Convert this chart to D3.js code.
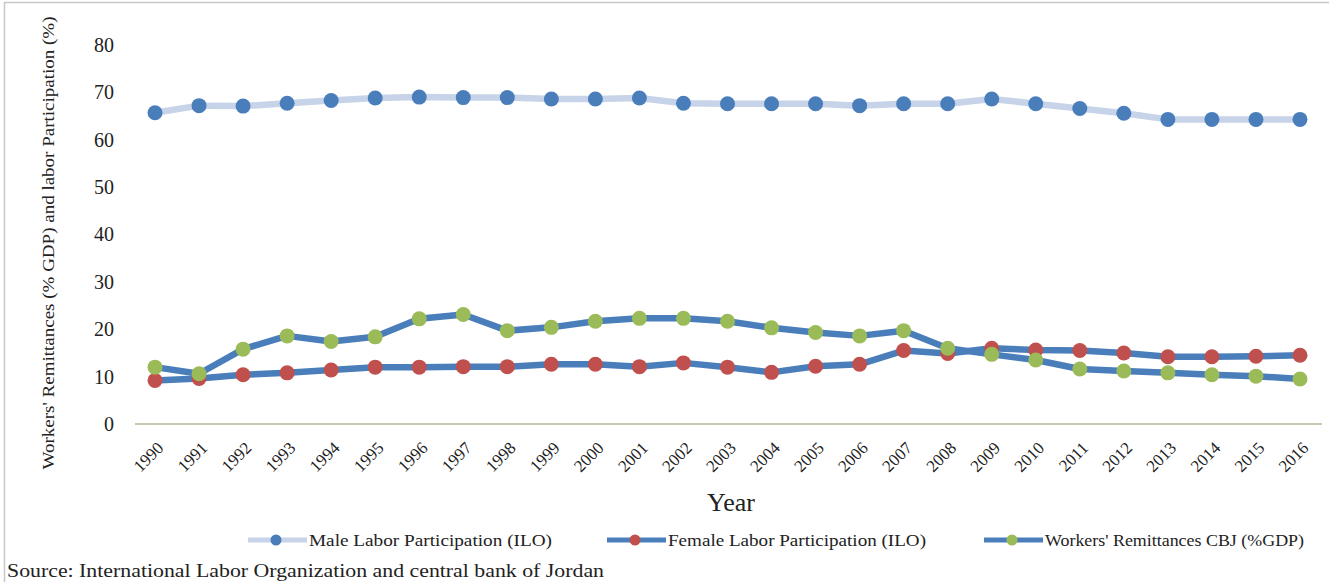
<!DOCTYPE html>
<html><head><meta charset="utf-8">
<script src="https://cdn.jsdelivr.net/npm/d3@7"></script>
<style>body{margin:0;background:#fff;} svg{display:block;}</style>
</head><body>
<svg id="c" width="1329" height="582"></svg>
<script>
const years = [1990,1991,1992,1993,1994,1995,1996,1997,1998,1999,2000,2001,2002,2003,2004,2005,2006,2007,2008,2009,2010,2011,2012,2013,2014,2015,2016];
const male = [65.7,67.2,67.1,67.7,68.3,68.8,69.0,68.9,68.9,68.6,68.6,68.8,67.7,67.6,67.6,67.6,67.2,67.6,67.6,68.6,67.6,66.6,65.6,64.3,64.3,64.3,64.3];
const female = [9.2,9.6,10.4,10.8,11.4,12.0,12.0,12.1,12.1,12.6,12.6,12.1,12.9,12.0,10.9,12.2,12.6,15.5,14.9,16.0,15.6,15.5,15.0,14.2,14.2,14.3,14.5];
const remit = [12.0,10.6,15.8,18.6,17.4,18.4,22.2,23.1,19.7,20.4,21.7,22.3,22.3,21.7,20.3,19.3,18.6,19.7,16.0,14.7,13.5,11.6,11.2,10.8,10.4,10.1,9.5];
const yTicks = [0,10,20,30,40,50,60,70,80];
const seriesNames = ["Male Labor Participation (ILO)","Female Labor Participation (ILO)","Workers' Remittances CBJ (%GDP)"];

const svg = d3.select("#c");
const serif = "'Liberation Serif','Times New Roman',serif";
svg.append("rect").attr("x",4.5).attr("y",2.5).attr("width",1340).attr("height",600)
  .attr("fill","none").attr("stroke","#c8c8c8").attr("stroke-width",1.5);

const x = d3.scaleLinear().domain([1990,2016]).range([155,1300]);
const y = d3.scaleLinear().domain([0,80]).range([424,45]);

// y tick labels
const ya = svg.append("g").attr("transform","translate(116,0)")
  .call(d3.axisLeft(y).tickValues(yTicks).tickSize(0).tickPadding(2));
ya.select(".domain").remove();
ya.selectAll("text").attr("font-family",serif).attr("font-size",20).attr("fill","#222");

// x axis
const xa = svg.append("g").attr("transform","translate(0,424)")
  .call(d3.axisBottom(x).tickValues(years).tickFormat(d3.format("d")).tickSize(0));
xa.select(".domain").attr("stroke","#c9c6b4").attr("stroke-width",2).attr("d","M135,0H1322");
xa.selectAll("text").attr("font-family",serif).attr("font-size",17).attr("fill","#222")
  .attr("text-anchor","end").attr("dy",0).attr("y",0)
  .attr("transform","translate(9,25) rotate(-45)");

// axis titles
svg.append("text").attr("transform","translate(54,243) rotate(-90)").attr("text-anchor","middle")
  .attr("font-family",serif).attr("font-size",17).attr("fill","#222")
  .attr("textLength",453).attr("lengthAdjust","spacingAndGlyphs")
  .text("Workers' Remittances  (% GDP) and labor Participation  (%)");
svg.append("text").attr("x",731).attr("y",511).attr("text-anchor","middle")
  .attr("font-family",serif).attr("font-size",26).attr("fill","#222").text("Year");

const line = d3.line().x((d,i)=>x(years[i])).y(d=>y(d));
const specs = [
  {data:male, line:"#c6d3e8", dot:"#4a7ebb"},
  {data:female, line:"#4a7ebb", dot:"#c0504d"},
  {data:remit, line:"#4a7ebb", dot:"#9bbb59"}
];
specs.forEach(s=>{
  svg.append("path").datum(s.data).attr("d",line).attr("fill","none")
    .attr("stroke",s.line).attr("stroke-width",6.5).attr("stroke-linejoin","round");
});
specs.forEach(s=>{
  svg.append("g").selectAll("circle").data(s.data).join("circle")
    .attr("cx",(d,i)=>x(years[i])).attr("cy",d=>y(d)).attr("r",7.5).attr("fill",s.dot);
});

// legend
const lx = [248,607,984];
const lw = [243,258,259];
seriesNames.forEach((n,i)=>{
  const g = svg.append("g").attr("transform",`translate(${lx[i]},540)`);
  g.append("line").attr("x1",0).attr("x2",59).attr("y1",0).attr("y2",0)
    .attr("stroke",specs[i].line).attr("stroke-width",5);
  g.append("circle").attr("cx",28).attr("cy",0).attr("r",5.5).attr("fill",specs[i].dot);
  g.append("text").attr("x",61).attr("y",6).attr("font-family",serif).attr("font-size",17)
    .attr("fill","#222").attr("textLength",lw[i]).attr("lengthAdjust","spacingAndGlyphs").text(n);
});

svg.append("text").attr("x",7).attr("y",577).attr("font-family",serif).attr("font-size",18)
  .attr("fill","#222").attr("textLength",597).attr("lengthAdjust","spacingAndGlyphs")
  .text("Source: International Labor Organization  and central bank of Jordan");
</script>
</body></html>
